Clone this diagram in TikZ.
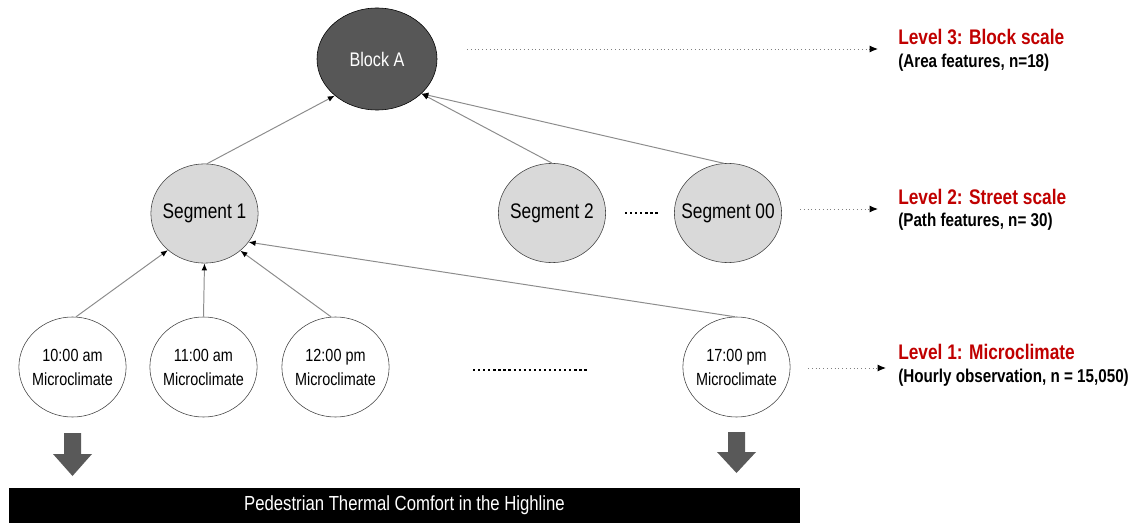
\documentclass[tikz,border=0pt]{standalone}
\usepackage{fontspec}
\setmainfont{Liberation Sans}[FakeStretch=0.82]
\usetikzlibrary{arrows.meta,shapes.geometric,positioning}
\definecolor{darknode}{HTML}{575757}
\definecolor{segfill}{HTML}{D9D9D9}
\definecolor{lvlred}{HTML}{C00000}
\definecolor{linkgray}{HTML}{8C8C8C}
\definecolor{downgray}{HTML}{595959}
\tikzset{
  blk/.style={ellipse,draw=black,fill=darknode,text=white,inner sep=0pt,
    minimum width=3cm,minimum height=2.55cm,font=\fontsize{14}{16}\selectfont},
  seg/.style={ellipse,draw=black!75,fill=segfill,inner sep=0pt,
    minimum width=2.68cm,minimum height=2.48cm},
  segtext/.style={inner sep=0pt,font=\fontsize{15}{17}\selectfont},
  micro/.style={ellipse,draw=black!75,fill=white,inner sep=0pt,
    minimum width=2.68cm,minimum height=2.5cm},
  mctext/.style={inner sep=0pt,align=center,font=\fontsize{12.5}{17}\selectfont},
  link/.style={linkgray,line width=0.7pt,-{Latex[black,length=5pt,width=4pt]}},
  lvlarrow/.style={black!50,dotted,line width=0.7pt,-{Latex[black,length=6pt,width=5pt]}},
  lvltitle/.style={anchor=west,inner sep=0pt,text=lvlred,font=\bfseries\fontsize{15}{17}\selectfont},
  lvlsub/.style={anchor=west,inner sep=0pt,font=\bfseries\fontsize{13.2}{15}\selectfont},
}

\begin{document}
\begin{tikzpicture}[x=0.025cm,y=-0.025cm]
  \useasboundingbox (0,0) rectangle (1138,525);

  % block level
  \node [blk] (blka) at (377,59) {Block A};

  % street segments
  \node [seg,label={[segtext]center:Segment 1}] (seg1) at (204.5,213.5) {};
  \node [seg,label={[segtext]center:Segment 2}] (seg2) at (552,213) {};
  \node [seg,label={[segtext]center:Segment 00}] (seg00) at (728,213) {};
  \draw [line width=1.6pt,dash pattern=on 1.6pt off 2pt]
    (625,213) -- (658,213);

  % hourly microclimate
  \node [micro,label={[mctext]center:{10:00 am\\Microclimate}}] (mc10) at (72.5,367) {};
  \node [micro,label={[mctext]center:{11:00 am\\Microclimate}}] (mc11) at (203.5,367) {};
  \node [micro,label={[mctext]center:{12:00 pm\\Microclimate}}] (mc12) at (335.5,367) {};
  \node [micro,label={[mctext]center:{17:00 pm\\Microclimate}}] (mc17) at (736.5,367) {};
  \draw [line width=1.6pt,dash pattern=on 1.6pt off 2pt]
    (473,370) -- (588,370);

  % links up the hierarchy
  \draw [link] (seg1.87) -- (blka.221);
  \draw [link] (seg2.north) -- (blka.322);
  \draw [link] (seg00.95) -- (blka.322);
  \draw [link] (mc10.86) -- (seg1.225);
  \draw [link] (mc11.north) -- (seg1.south);
  \draw [link] (mc12.95) -- (seg1.314);
  \draw [link] (mc17.92) -- (seg1.327);

  % level labels
  \node [lvltitle] (lvl3) at (898,37) {Level 3: Block scale};
  \node [lvlsub] (lvl3n) at (898,63) {(Area features, n=18)};
  \node [lvltitle] (lvl2) at (898,197) {Level 2: Street scale};
  \node [lvlsub] (lvl2n) at (898,222) {(Path features, n= 30)};
  \node [lvltitle] (lvl1) at (898,352) {Level 1: Microclimate};
  \node [lvlsub] (lvl1n) at (898,378) {(Hourly observation, n = 15,050)};

  \coordinate (l3a) at (467,49);
  \coordinate (l3b) at (878,49);
  \coordinate (l2a) at (800,209);
  \coordinate (l2b) at (878,209);
  \coordinate (l1a) at (808,368);
  \coordinate (l1b) at (886,368);
  \draw [lvlarrow] (l3a) -- (l3b);
  \draw [lvlarrow] (l2a) -- (l2b);
  \draw [lvlarrow] (l1a) -- (l1b);

  % outcome
  \fill [downgray] (64,433) -- (81,433) -- (81,454) -- (92,454)
    -- (72.5,476) -- (53,454) -- (64,454) -- cycle;
  \fill [downgray] (728,432) -- (745,432) -- (745,452) -- (756,452)
    -- (736.5,473) -- (717,452) -- (728,452) -- cycle;
  \node [fill=black,text=white,inner sep=0pt,minimum width=19.775cm,
    minimum height=0.875cm,font=\fontsize{14.5}{17}\selectfont]
    (comfort) at (404.5,505.5) {Pedestrian Thermal Comfort in the Highline};
\end{tikzpicture}
\end{document}
